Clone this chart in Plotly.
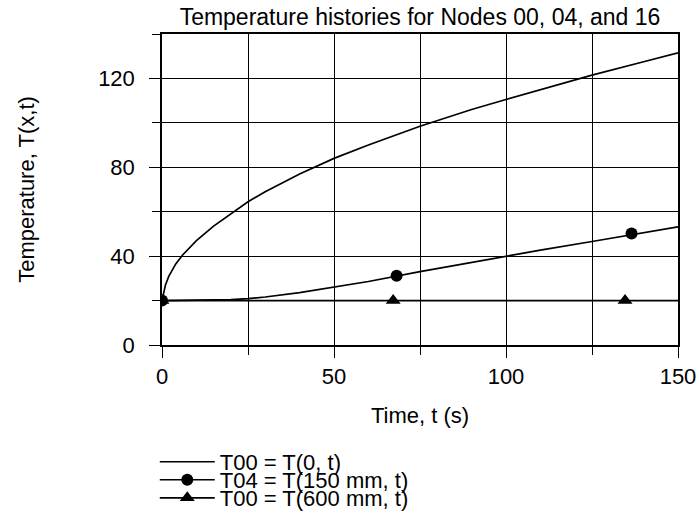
import plotly.graph_objects as go

# ---- data ----
t_surface = [0, 1, 2, 4, 6, 8, 10, 15, 20, 25, 30, 40, 50, 60, 75, 90, 100, 110, 125, 140, 150]
T_surface = [20, 27, 31, 36.5, 40.5, 44, 47, 53.5, 59, 64.5, 69, 77, 84, 90, 98.5, 106, 110.5, 115, 121.5, 127.5, 131.5]

t_150mm = [0, 10, 20, 25, 30, 40, 50, 60, 75, 90, 100, 110, 125, 137, 150]
T_150mm = [20, 20.05, 20.4, 20.9, 21.6, 23.6, 26, 28.6, 33, 37.3, 40, 42.7, 46.6, 49.8, 53.2]
t_150mm_marks = [0, 68.2, 136.5]
T_150mm_marks = [20, 31.2, 50.2]

t_600mm = [0, 25, 50, 75, 100, 125, 150]
T_600mm = [20, 20, 20, 20, 20, 20, 20]
t_600mm_marks = [0, 67.2, 134.6]
T_600mm_marks = [20, 20, 20]

names = ["T00 = T(0, t)", "T04 = T(150 mm, t)", "T00 = T(600 mm, t)"]
title_text = "Temperature histories for Nodes 00, 04, and 16"
x_title = "Time, t (s)"
y_title = "Temperature, T(x,t)"

FONT = "Liberation Sans, Arial, sans-serif"
FS = 22
LW = 1.7

fig = go.Figure()
fig.add_trace(go.Scatter(x=t_surface, y=T_surface, mode="lines",
                         line=dict(color="black", width=LW), showlegend=False))
fig.add_trace(go.Scatter(x=t_150mm, y=T_150mm, mode="lines",
                         line=dict(color="black", width=LW), showlegend=False))
fig.add_trace(go.Scatter(x=t_600mm, y=T_600mm, mode="lines",
                         line=dict(color="black", width=LW), showlegend=False))
fig.add_trace(go.Scatter(x=t_150mm_marks, y=T_150mm_marks, mode="markers",
                         marker=dict(symbol="circle", size=12, color="black"), showlegend=False))
fig.add_trace(go.Scatter(x=t_600mm_marks, y=T_600mm_marks, mode="markers",
                         marker=dict(symbol="triangle-up", size=13, color="black"), showlegend=False))

# legend entries
fig.add_trace(go.Scatter(x=[None], y=[None], mode="lines", name=names[0],
                         line=dict(color="black", width=LW), legend="legend"))
fig.add_trace(go.Scatter(x=[None], y=[None], mode="lines+markers", name=names[1],
                         line=dict(color="black", width=LW),
                         marker=dict(symbol="circle", size=12, color="black"), legend="legend2"))
fig.add_trace(go.Scatter(x=[None], y=[None], mode="lines+markers", name=names[2],
                         line=dict(color="black", width=LW),
                         marker=dict(symbol="triangle-up", size=13, color="black"), legend="legend3"))

axis_common = dict(
    showline=True, mirror=True, linecolor="black", linewidth=1.5,
    showgrid=True, gridcolor="black", gridwidth=1,
    ticks="outside", ticklen=11, tickwidth=1, tickcolor="black",
    zeroline=False,
    tickfont=dict(family=FONT, size=FS, color="black"),
)

fig.update_xaxes(range=[0, 150], tick0=0, dtick=50,
                 minor=dict(dtick=25, ticks="outside", ticklen=8, tickcolor="black",
                            showgrid=True, gridcolor="black", gridwidth=1),
                 title=dict(text=x_title, font=dict(family=FONT, size=FS, color="black"), standoff=19),
                 ticklabelstandoff=0,
                 **axis_common)
fig.update_yaxes(range=[0, 140], tick0=0, dtick=40,
                 minor=dict(dtick=20, ticks="outside", ticklen=8, tickcolor="black",
                            showgrid=True, gridcolor="black", gridwidth=1),
                 title=dict(text=y_title, font=dict(family=FONT, size=FS, color="black"), standoff=57),
                 ticklabelstandoff=10,
                 **axis_common)

leg_common = dict(xanchor="left", yanchor="middle", x=-0.014,
                  font=dict(family=FONT, size=FS, color="black"),
                  bgcolor="rgba(0,0,0,0)", itemwidth=55, borderwidth=0)

fig.update_layout(
    width=699, height=525,
    margin=dict(l=162, r=21, t=34, b=180, autoexpand=False),
    paper_bgcolor="white", plot_bgcolor="white",
    title=dict(text=title_text, x=420 / 699, xanchor="center", y=1 - 16.5 / 525, yanchor="middle",
               font=dict(family=FONT, size=23, color="black")),
    legend=dict(y=-0.376, **leg_common),
    legend2=dict(y=-0.434, **leg_common),
    legend3=dict(y=-0.492, **leg_common),
)

fig.write_html(
    "out.html",
    config={"displayModeBar": False},
    post_script="document.body.style.margin='0';document.documentElement.style.overflow='hidden';document.body.style.overflow='hidden';",
)
